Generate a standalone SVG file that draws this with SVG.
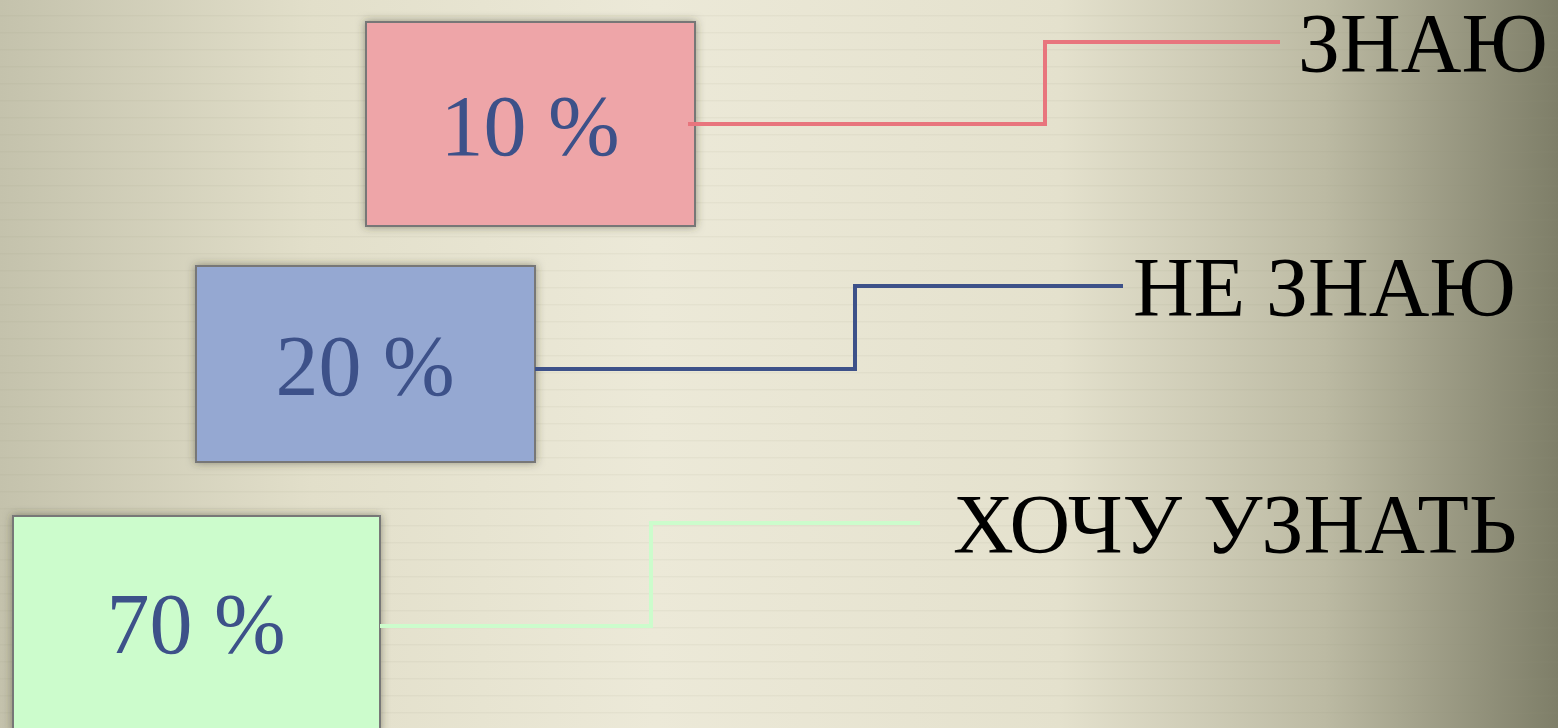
<svg xmlns="http://www.w3.org/2000/svg" width="1558" height="728" viewBox="0 0 1558 728">
<defs>
<linearGradient id="bg" x1="0" y1="0" x2="1" y2="0">
<stop offset="0" stop-color="#c4c2ac"/>
<stop offset="0.2" stop-color="#e2dfca"/>
<stop offset="0.42" stop-color="#ece9d8"/>
<stop offset="0.68" stop-color="#e4e1cd"/>
<stop offset="0.85" stop-color="#bcbaa3"/>
<stop offset="1" stop-color="#7e7e68"/>
</linearGradient>
<pattern id="lines" width="20" height="17" patternUnits="userSpaceOnUse">
<rect x="0" y="15" width="20" height="1.5" fill="#8a8770" opacity="0.08"/>
</pattern>
<filter id="sh" x="-10%" y="-10%" width="120%" height="120%">
<feDropShadow dx="0" dy="0" stdDeviation="4" flood-color="#3a3a2a" flood-opacity="0.5"/>
</filter>
</defs>
<style>
.box{stroke:#777;stroke-width:2;filter:url(#sh)}
.pct{font-family:"Liberation Serif","DejaVu Serif",serif;font-size:86px;fill:#3d5189;text-anchor:middle}
.lbl{font-family:"Liberation Serif","DejaVu Serif",serif;font-size:84px;fill:#000}
.conn{fill:none;stroke-width:4}
</style>
<rect width="1558" height="728" fill="url(#bg)"/>
<rect width="1558" height="728" fill="url(#lines)"/>
<g id="node-10">
<rect class="box" x="366" y="22" width="329" height="204" fill="#eea5a8"/>
<text class="pct" x="530" y="155">10 %</text>
</g>
<g id="node-20">
<rect class="box" x="196" y="266" width="339" height="196" fill="#95a8d2"/>
<text class="pct" x="365" y="395">20 %</text>
</g>
<g id="node-70">
<rect class="box" x="13" y="516" width="367" height="216" fill="#ccfccc"/>
<text class="pct" x="196" y="653">70 %</text>
</g>
<g id="connectors">
<polyline class="conn" stroke="#e8757d" points="688,124 1045,124 1045,42 1280,42"/>
<polyline class="conn" stroke="#3d5189" points="535,369 855,369 855,286 1123,286"/>
<polyline class="conn" stroke="#ccfccc" points="380,626 651,626 651,523 920,523"/>
</g>
<g id="label-znayu"><text class="lbl" x="1298" y="72">ЗНАЮ</text></g>
<g id="label-ne-znayu"><text class="lbl" x="1133" y="316">НЕ ЗНАЮ</text></g>
<g id="label-hochu"><text class="lbl" x="953" y="553">ХОЧУ УЗНАТЬ</text></g>
</svg>
